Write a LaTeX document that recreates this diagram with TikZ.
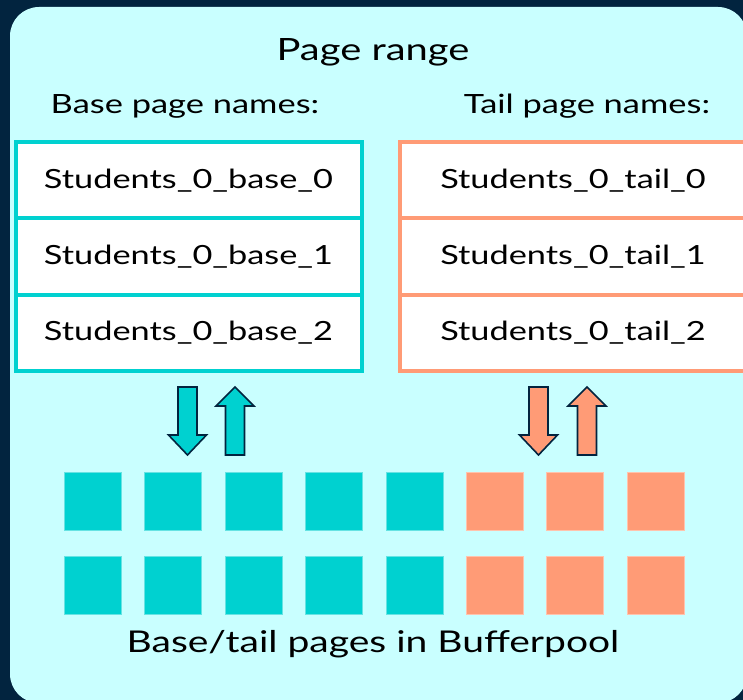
\documentclass[tikz,border=0pt]{standalone}
\usepackage{fontspec}
\setmainfont{Lato}[FakeStretch=1.3]
\definecolor{navy}{HTML}{02243F}
\definecolor{panel}{HTML}{C9FFFF}
\definecolor{teal}{HTML}{00D1D0}
\definecolor{salmon}{HTML}{FF9B76}
\tikzset{
  cell/.style={draw,line width=4pt,fill=white,minimum width=346pt,minimum height=76.3pt,inner sep=0pt,font=\fontsize{26.4}{30}\selectfont},
  page/.style={fill=#1,draw=#1!60!white,line width=0.6pt},
  flow/.style={fill=#1,draw=navy,line width=1.6pt,line join=miter}
}
\newcommand{\arrowdown}[2]{% centre x, colour
  \draw[flow=#2] (#1-9.5,387) -- (#1+9.5,387) -- (#1+9.5,435) -- (#1+19,435) -- (#1,455) -- (#1-19,435) -- (#1-9.5,435) -- cycle;}
\newcommand{\arrowup}[2]{%
  \draw[flow=#2] (#1-9.5,455) -- (#1+9.5,455) -- (#1+9.5,406) -- (#1+19,406) -- (#1,387) -- (#1-19,406) -- (#1-9.5,406) -- cycle;}
\begin{document}
\begin{tikzpicture}[x=1pt,y=-1pt]
		\useasboundingbox (0,0) rectangle (743,700);
		\fill[navy] (0,0) rectangle (743,700);
		\fill[panel,rounded corners=29pt] (10,7) rectangle (747,703);
		\node (title) at (373,52) {\fontsize{30.7}{36}\selectfont Page range};
		\node (basehead) at (185,106) {\fontsize{26.5}{30}\selectfont Base page names:};
		\node (tailhead) at (587,106) {\fontsize{26.5}{30}\selectfont Tail page names:};
		% page name tables
		\foreach \i in {0,1,2} {
			\node[cell,draw=teal] (base\i) at (188.5,180.2+76.3*\i) {Students\_0\_base\_\i};
			\node[cell,draw=salmon] (tail\i) at (573,180.2+76.3*\i) {Students\_0\_tail\_\i};
		}
		% arrows between tables and bufferpool
		\arrowdown{187.5}{teal}
		\arrowup{235}{teal}
		\arrowdown{538.5}{salmon}
		\arrowup{587}{salmon}
		% bufferpool pages
		\foreach \c in {0,...,7} {
			\pgfmathsetmacro{\px}{64+80.4*\c}
			\ifnum\c<5 \def\pc{teal}\else\def\pc{salmon}\fi
			\foreach \r in {0,1} {
				\node[page=\pc,minimum width=57pt,minimum height=58pt,inner sep=0pt,anchor=north west] (pg\c\r) at (\px,472+84*\r) {};
			}
		}
		\node (pool) at (373,644) {\fontsize{30}{36}\selectfont Base/tail pages in Bufferpool};
\end{tikzpicture}
\end{document}
